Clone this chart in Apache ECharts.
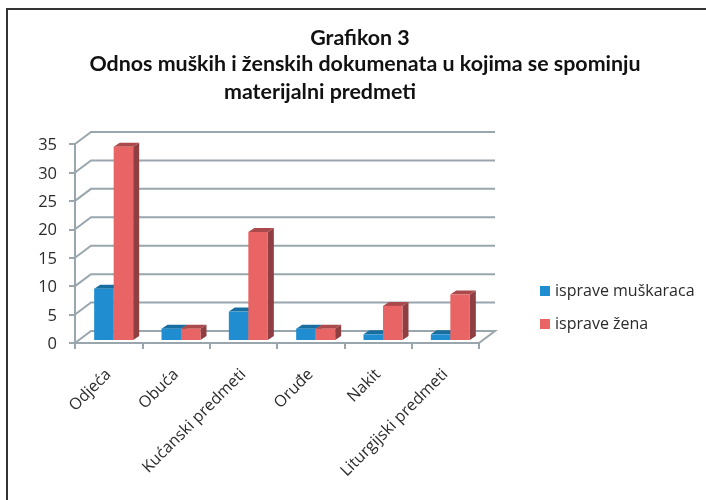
<!DOCTYPE html>
<html>
<head>
<meta charset="utf-8">
<style>
  html, body { margin: 0; padding: 0; background: #fff; }
  #chart { width: 706px; height: 500px; }
</style>
<script src="https://cdn.jsdelivr.net/npm/echarts@6/dist/echarts.min.js"></script>
</head>
<body>
<div id="chart"></div>
<script>
const categories = ["Odjeća", "Obuća", "Kućanski predmeti", "Oruđe", "Nakit", "Liturgijski predmeti"];
const seriesNames = ["isprave muškaraca", "isprave žena"];
const menValues = [9, 2, 5, 2, 1, 1];
const womenValues = [34, 2, 19, 2, 6, 8];
const yTicks = [0, 5, 10, 15, 20, 25, 30, 35];
const titleLines = ["Grafikon 3", "Odnos muških i ženskih dokumenata u kojima se spominju", "materijalni predmeti"];

const chart = echarts.init(document.getElementById("chart"), null, { renderer: "canvas" });

const GRID_COLOR = "#9aa6ae";
const TEXT_COLOR = "#2b2b2b";
// back wall offset of the fake 3d box
const WALL_DX = 16;
const WALL_DY = -12;

// one wall line per tick: diagonal on the side wall, then across the back
function renderWall(params, api) {
    const p = api.coord([0, api.value(0)]);
    const sys = params.coordSys;
    const left = sys.x;
    const right = sys.x + sys.width;
    const points = [[left, p[1]], [left + WALL_DX, p[1] + WALL_DY], [right + WALL_DX, p[1] + WALL_DY]];
    if (api.value(0) === 0) {
        points.push([right, p[1]]);
    }
    return {
        type: "polyline",
        shape: { points },
        style: { stroke: GRID_COLOR, lineWidth: 2, fill: null },
    };
}

function makeBarRenderer(colors, side) {
    return function (params, api) {
        const top = api.coord([api.value(0), api.value(1)]);
        const base = api.coord([api.value(0), 0]);
        const w = 19.5;
        const dx = 6;
        const dy = -4;
        // bars sit a bit inside the floor
        const x = top[0] + 5 + (side === 0 ? -w : 0);
        const yTop = top[1] - 3;
        const yBase = base[1] - 3;
        return {
            type: "group",
            children: [
                {
                    type: "polygon",
                    shape: { points: [[x + w, yTop], [x + w + dx, yTop + dy], [x + w + dx, yBase + dy], [x + w, yBase]] },
                    style: { fill: colors.side },
                },
                {
                    type: "polygon",
                    shape: { points: [[x, yTop], [x + dx, yTop + dy], [x + w + dx, yTop + dy], [x + w, yTop]] },
                    style: { fill: colors.top },
                },
                {
                    type: "rect",
                    shape: { x, y: yTop, width: w, height: yBase - yTop },
                    style: { fill: colors.front },
                },
            ],
        };
    };
}

const titleStyle = { fontFamily: "Lato", fontWeight: "bold", fontSize: 21.4, color: "#111" };

chart.setOption({
    animation: false,
    backgroundColor: "#fff",
    title: [
        { text: titleLines[0], left: 355, top: 23, textAlign: "center", textStyle: titleStyle },
        { text: titleLines[1], left: 360, top: 49, textAlign: "center", textStyle: titleStyle },
        { text: titleLines[2], left: 315, top: 77, textAlign: "center", textStyle: titleStyle },
    ],
    legend: {
        orient: "vertical",
        left: 540,
        top: 283,
        padding: 0,
        itemWidth: 10,
        itemHeight: 10,
        itemGap: 17,
        icon: "rect",
        data: seriesNames,
        textStyle: { fontFamily: "Open Sans", fontSize: 16, color: TEXT_COLOR },
    },
    grid: { left: 75, right: 227, top: 144, bottom: 157 },
    xAxis: {
        type: "category",
        data: categories,
        axisLine: { lineStyle: { color: GRID_COLOR, width: 2 } },
        axisTick: { show: true, length: 6, lineStyle: { color: GRID_COLOR, width: 2 } },
        axisLabel: { rotate: 45, interval: 0, margin: 29, fontFamily: "Open Sans", fontSize: 16, color: TEXT_COLOR },
    },
    yAxis: {
        type: "value",
        min: 0,
        max: 35,
        interval: 5,
        splitLine: { show: false },
        axisLine: { show: true, lineStyle: { color: GRID_COLOR, width: 2 } },
        axisTick: { show: true, length: 6, lineStyle: { color: GRID_COLOR, width: 2 } },
        // labels sit slightly under their ticks in the original
        axisLabel: { margin: 18, verticalAlign: "top", lineHeight: 3, fontFamily: "Open Sans", fontSize: 16.5, color: TEXT_COLOR },
    },
    series: [
        {
            type: "custom",
            name: "wall",
            silent: true,
            clip: false,
            z: 1,
            data: yTicks.map((v) => [v]),
            encode: { y: 0 },
            renderItem: renderWall,
        },
        {
            type: "custom",
            name: seriesNames[0],
            clip: false,
            z: 2,
            itemStyle: { color: "#1f8dcf" },
            data: menValues.map((v, i) => [i, v]),
            encode: { x: 0, y: 1 },
            renderItem: makeBarRenderer({ front: "#1f8dcf", top: "#186f9f", side: "#156a99" }, 0),
        },
        {
            type: "custom",
            name: seriesNames[1],
            clip: false,
            z: 3,
            itemStyle: { color: "#e96464" },
            data: womenValues.map((v, i) => [i, v]),
            encode: { x: 0, y: 1 },
            renderItem: makeBarRenderer({ front: "#e96464", top: "#ab4a4c", side: "#8f3e42" }, 1),
        },
    ],
    graphic: [
        // page frame, runs off the right and bottom of the picture
        {
            type: "polyline",
            silent: true,
            shape: { points: [[7, 500], [7, 9], [706, 9]] },
            style: { stroke: "#333", lineWidth: 2, fill: null },
        },
    ],
});
</script>
</body>
</html>
